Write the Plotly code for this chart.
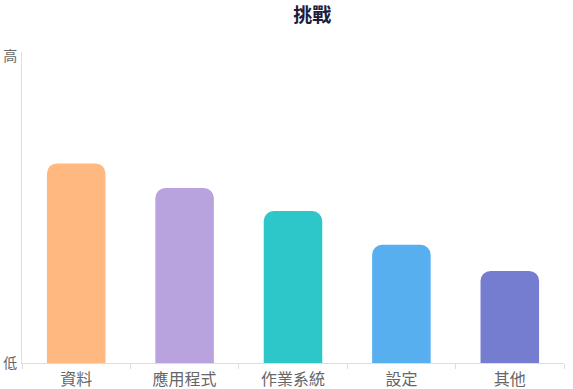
import plotly.graph_objects as go

categories = ["資料", "應用程式", "作業系統", "設定", "其他"]
values = [65, 57, 49.5, 38.5, 30]
colors = ["#FFB880", "#B8A3DE", "#2EC7C9", "#58AFEF", "#757DD1"]
y_ticks = [0, 100]
y_labels = ["低", "高"]

fig = go.Figure(go.Bar(
    x=categories, y=values,
    marker=dict(color=colors, cornerradius=10, line=dict(width=0)),
    width=0.54,
))

font = "Noto Sans CJK TC, Noto Sans, sans-serif"
fig.update_layout(
    width=573, height=389,
    margin=dict(l=22, r=9, t=52, b=26),
    paper_bgcolor="white", plot_bgcolor="white",
    font=dict(family=font, color="#777777", size=14),
    title=dict(text="<b>挑戰</b>", x=0.545, xanchor="center",
               yref="container", y=1 - 15 / 389, yanchor="middle",
               font=dict(size=19, color="#1e1e3c", family=font)),
    showlegend=False,
)
fig.update_xaxes(
    type="category", showline=True, linecolor="#dddddd", linewidth=1,
    ticks="outside", tickson="boundaries", ticklen=5, tickcolor="#dddddd",
    showgrid=False, tickfont=dict(size=16, color="#666666"), automargin=False,
    ticklabelstandoff=2,
)
fig.update_yaxes(
    range=[0, 101.3], tickvals=y_ticks, ticktext=y_labels,
    showline=True, linecolor="#dddddd", linewidth=1,
    showgrid=False, zeroline=False, ticks="", tickfont=dict(size=14, color="#666666"),
    ticklabelstandoff=1, automargin=False,
)
fig.write_html("out.html")
